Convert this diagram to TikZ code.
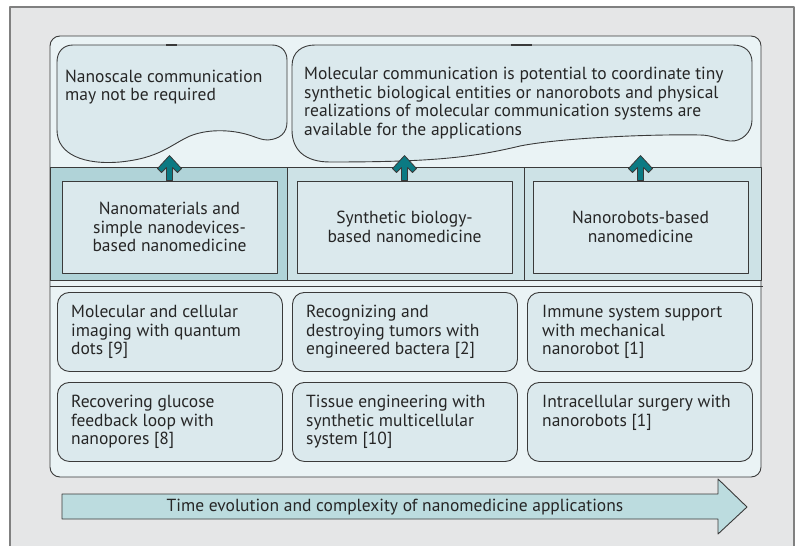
\documentclass[tikz,border=0pt]{standalone}
\usepackage{fontspec}
\setmainfont{PT Sans}
\usepackage{tikz}
\usetikzlibrary{positioning}

\begin{document}
\begin{tikzpicture}
	[x=1pt,y=-1pt,line join=round,
	%Styles
	frame line/.style={draw=frameline,line width=1.3pt},
	panel/.style={draw=darkline,fill=panelfill,line width=0.9pt,rounded corners=10pt},
	note/.style={draw=darkline,fill=notefill,line width=0.9pt},
	body text/.style={text=textcol,font=\fontsize{17.5}{18.6}\selectfont},
	note text/.style={body text,anchor=north west,inner sep=0pt,align=left},
	cell/.style={draw=darkline,line width=0.9pt,minimum width=237pt,minimum height=113pt,inner sep=0pt,outer sep=0pt},
	catbox/.style={draw=darkline,fill=boxfill,line width=0.9pt,minimum width=215pt,minimum height=92pt,body text,align=center},
	appbox/.style={draw=darkline,fill=boxfill,line width=0.9pt,rounded corners=12pt,minimum width=225pt,minimum height=79pt,anchor=north west},
	app text/.style={note text},
	up arrow/.style={draw=darkline,fill=arrowteal,line width=0.8pt},
	time arrow/.style={draw=darkline,fill=timefill,line width=0.9pt}
	]
	
	%Colors
	\definecolor{bgfill}{HTML}{E5E6E7}
	\definecolor{frameline}{HTML}{808080}
	\definecolor{darkline}{HTML}{3A3A3A}
	\definecolor{textcol}{HTML}{262626}
	\definecolor{panelfill}{HTML}{EAF3F5}
	\definecolor{notefill}{HTML}{DBE9ED}
	\definecolor{boxfill}{HTML}{DBE9ED}
	\definecolor{cellleft}{HTML}{B0D3D8}
	\definecolor{cellother}{HTML}{CDE2E6}
	\definecolor{arrowteal}{HTML}{0B7A83}
	\definecolor{timefill}{HTML}{BCDCDF}
	
	\useasboundingbox (0,0) rectangle (797,546);
	
	%The frame
	\fill[bgfill] (10,7) rectangle (794,546);
	\draw[frame line] (10,546) -- (10,7) -- (794,7) -- (794,546);
	
	%The panel
	\draw[panel] (50,36) rectangle (761,477);
	
	%Notes on top
	\draw[note] (73,45) -- (272,45) .. controls (281,45) and (287,51) .. (287,60) -- (287,122)
		.. controls (287,133) and (280,139) .. (268,140) .. controls (262,140) and (258,138) .. (252,136)
		.. controls (235,130) and (210,128) .. (190,136) .. controls (170,145) and (160,158) .. (120,162)
		.. controls (85,165) and (57,155) .. (57,130) -- (57,62) .. controls (57,52) and (63,45) .. (73,45) -- cycle;
	\draw[note] (315,45) -- (733,45) .. controls (745,45) and (752,52) .. (752,62) -- (752,120)
		.. controls (752,132) and (742,142) .. (730,141) .. controls (720,140) and (712,135) .. (700,135)
		.. controls (650,134) and (560,138) .. (520,146) .. controls (470,158) and (430,162) .. (330,162)
		.. controls (305,162) and (292,150) .. (292,130) -- (292,66) .. controls (292,52) and (302,45) .. (315,45) -- cycle;
	\draw[darkline,line width=2pt] (166,45) -- (177,45);
	\draw[darkline,line width=2pt] (511,45) -- (532,45);
	
	\node[note text] (noteNone) at (65,69.5) {Nanoscale communication\\may not be required};
	\node[note text] (noteMolecular) at (304,67) {Molecular communication is potential to coordinate tiny\\synthetic biological entities or nanorobots and physical\\realizations of molecular communication systems are\\available for the applications};
	
	%Categories
	\node[cell,fill=cellleft,anchor=north west] (cellNano) at (50,167) {};
	\node[cell,fill=cellother,right=0pt of cellNano] (cellSynth) {};
	\node[cell,fill=cellother,right=0pt of cellSynth] (cellRobot) {};
	\draw[darkline,line width=0.9pt] (50,286) -- (763,286);
	
	\node[catbox] (boxNano) at (169.5,227) {Nanomaterials and\\simple nanodevices-\\based nanomedicine};
	\node[catbox] (boxSynth) at (404.5,227) {Synthetic biology-\\based nanomedicine};
	\node[catbox] (boxRobot) at (640.5,227) {Nanorobots-based\\nanomedicine};
	
	\filldraw[up arrow] ([xshift=-3pt]boxNano.north) -- ++(0,-13) -- ++(-5,5) -- ++(-4,-4) -- ++(12,-13) -- ++(12,13) -- ++(-4,4) -- ++(-5,-5) -- ++(0,13) -- cycle;
	\filldraw[up arrow] ([xshift=-3pt]boxSynth.north) -- ++(0,-13) -- ++(-5,5) -- ++(-4,-4) -- ++(12,-13) -- ++(12,13) -- ++(-4,4) -- ++(-5,-5) -- ++(0,13) -- cycle;
	\filldraw[up arrow] ([xshift=-3pt]boxRobot.north) -- ++(0,-13) -- ++(-5,5) -- ++(-4,-4) -- ++(12,-13) -- ++(12,13) -- ++(-4,4) -- ++(-5,-5) -- ++(0,13) -- cycle;
	
	%Applications
	\node[appbox] (appImaging) at (57,292) {};
	\node[appbox] (appTumor) at (292,292) {};
	\node[appbox] (appImmune) at (527,292) {};
	\node[appbox] (appGlucose) at (57,382) {};
	\node[appbox] (appTissue) at (292,382) {};
	\node[appbox] (appSurgery) at (527,382) {};
	
	\node[app text] at ([shift={(14,13)}]appImaging.north west) {Molecular and cellular\\imaging with quantum\\dots [9]};
	\node[app text] at ([shift={(14,13)}]appTumor.north west) {Recognizing and\\destroying tumors with\\engineered bactera [2]};
	\node[app text] at ([shift={(15,13)}]appImmune.north west) {Immune system support\\with mechanical\\nanorobot [1]};
	\node[app text] at ([shift={(14,13)}]appGlucose.north west) {Recovering glucose\\feedback loop with\\nanopores [8]};
	\node[app text] at ([shift={(14,13)}]appTissue.north west) {Tissue engineering with\\synthetic multicellular\\system [10]};
	\node[app text] at ([shift={(15,13)}]appSurgery.north west) {Intracellular surgery with\\nanorobots [1]};
	
	%Time axis
	\filldraw[time arrow] (62,494) -- (718,494) -- (718,479) -- (747,507) -- (718,534) -- (718,519) -- (62,519) -- cycle;
	\node[body text] (timeText) at (395,507) {Time evolution and complexity of nanomedicine applications};
\end{tikzpicture}
\end{document}
